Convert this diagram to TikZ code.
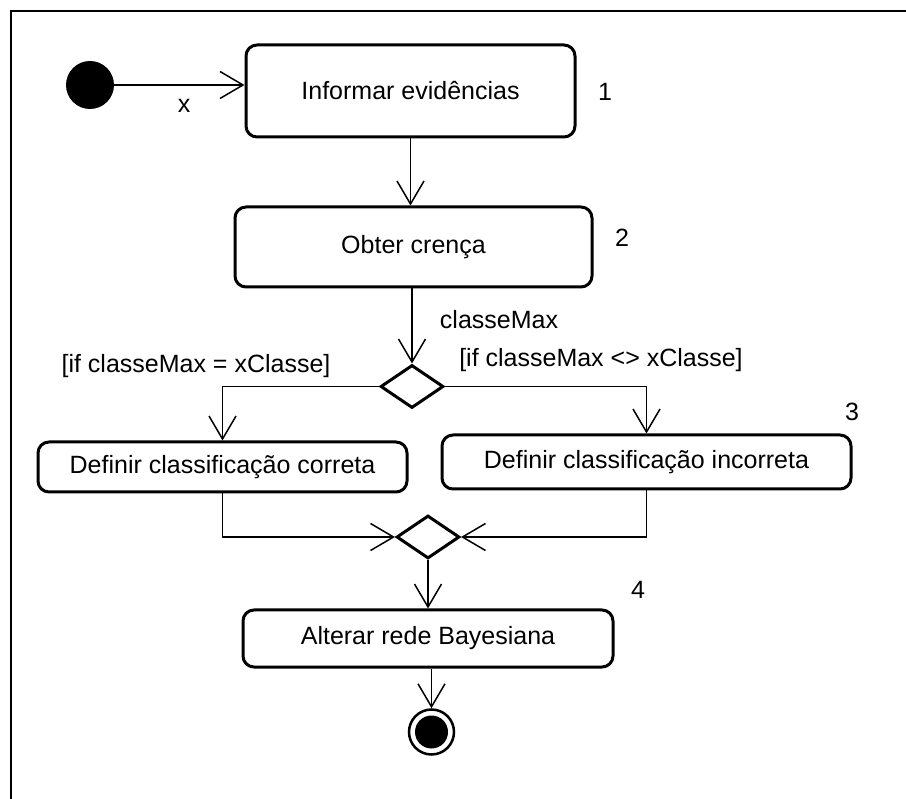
\documentclass[tikz,border=0pt]{standalone}
\usepackage{fontspec}
\setmainfont{Liberation Sans}
\usetikzlibrary{arrows.meta,shapes.geometric}

\tikzset{
  action/.style={draw, line width=3pt, rounded corners=11pt, fill=white,
    inner sep=0pt, font=\fontsize{25}{30}\selectfont},
  choice/.style={draw, diamond, line width=3pt, fill=white, inner sep=0pt,
    minimum width=63pt, minimum height=43pt},
  flow/.style={line width=1.5pt, -{Straight Barb[length=23pt,width=27pt,line width=1.5pt]}},
  lbl/.style={font=\fontsize{25}{30}\selectfont, inner sep=0pt},
}

\begin{document}
\begin{tikzpicture}[x=1pt,y=-1pt]
\useasboundingbox (0,0) rectangle (906,799);
\fill[white] (0,0) rectangle (906,799);

% frame (left and top edges)
\draw[line width=2pt] (11,799) -- (11,11) -- (906,11);

% initial and final nodes
\node[circle, fill=black, minimum size=48pt, inner sep=0pt] (start) at (90,85) {};
\node[circle, draw, line width=2.5pt, minimum size=45pt, inner sep=0pt] (stop) at (431.5,732) {};
\node[circle, fill=black, minimum size=33pt, inner sep=0pt] (stopdot) at (431.5,732) {};

% actions
\node[action, minimum width=329pt, minimum height=92pt] (b1) at (410.5,91) {Informar evidências};
\node[action, minimum width=357pt, minimum height=80pt] (b2) at (413.5,247) {Obter crença};
\node[action, minimum width=369pt, minimum height=50pt] (bc) at (222.5,467) {Definir classificação correta};
\node[action, minimum width=409pt, minimum height=54pt] (bi) at (646.5,462) {Definir classificação incorreta};
\node[action, minimum width=370pt, minimum height=57pt] (b4) at (428,638.5) {Alterar rede Bayesiana};

% decision and merge
\node[choice] (d1) at (412,386.5) {};
\node[choice] (d2) at (428,537) {};

% numbers and labels
\node[lbl] (n1) at (605,92) {1};
\node[lbl] (n2) at (622,238) {2};
\node[lbl] (n3) at (852,412) {3};
\node[lbl] (n4) at (638,590) {4};
\node[lbl] (lx) at (184,106) {x};
\node[lbl] (lmax) at (499,320) {classeMax};
\node[lbl] (leq) at (196,366) {[if classeMax = xClasse]};
\node[lbl] (lne) at (601,360) {[if classeMax <> xClasse]};

% flows
\draw[flow] (start.east) -- (b1.west |- start.east);
\draw[flow] (b1.south -| 410.5,0) -- (b2.north -| 410.5,0);
\draw[flow] (b2.south -| d1.north) -- (d1.north);
\draw[flow] (d1.west) -| (bc.north);
\draw[flow] (d1.east) -| (bi.north);
\draw[flow] (bc.south) |- (d2.west);
\draw[flow] (bi.south) |- (d2.east);
\draw[flow] (d2.south) -- (b4.north);
\draw[flow] (b4.south -| stop.north) -- (stop.north);
\end{tikzpicture}
\end{document}
